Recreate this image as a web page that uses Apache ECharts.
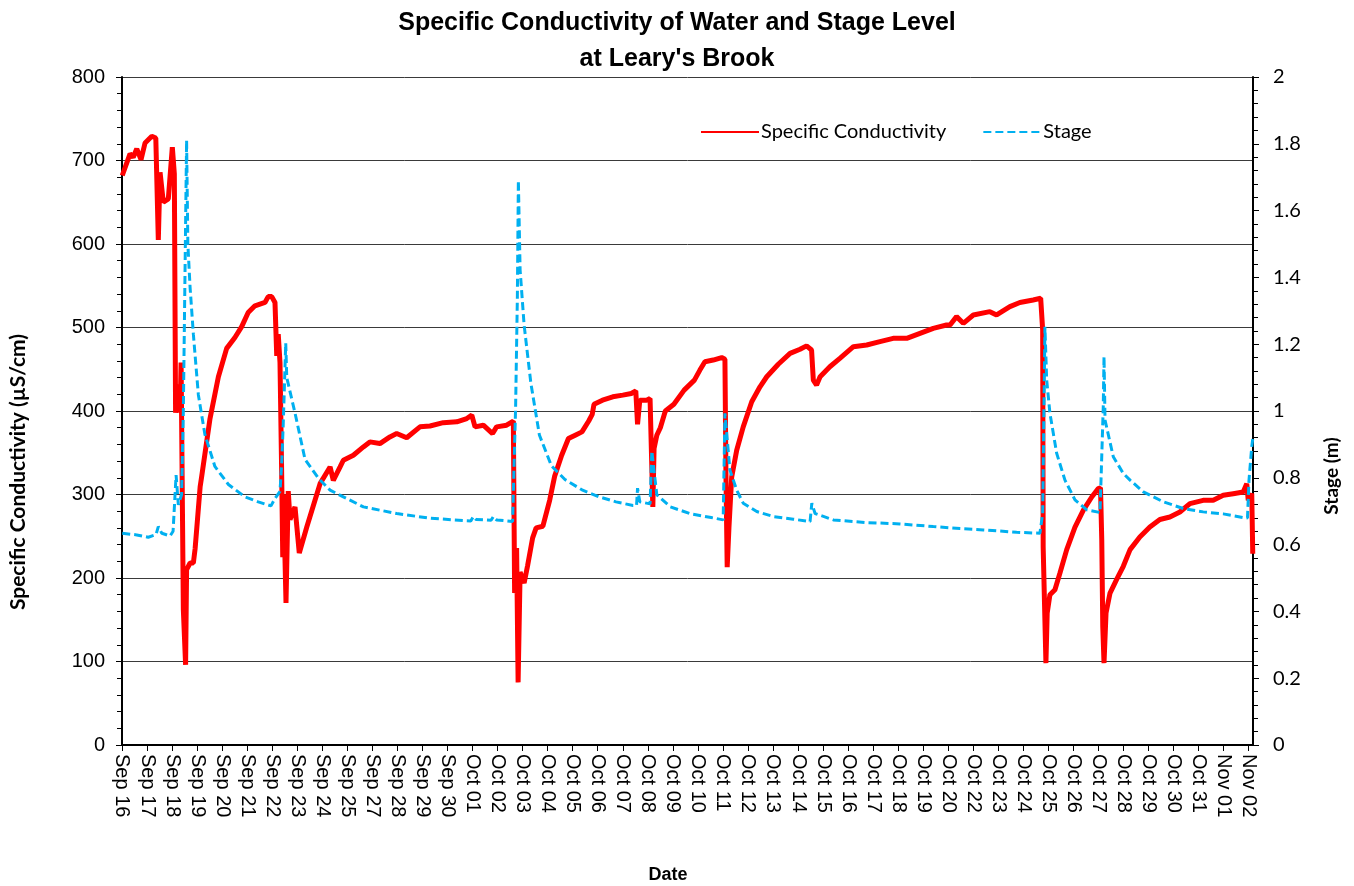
<!DOCTYPE html>
<html lang="en">
<head>
<meta charset="UTF-8">
<title>Specific Conductivity and Stage - Leary's Brook</title>
<script src="https://cdn.jsdelivr.net/npm/echarts@6/dist/echarts.min.js"></script>
<style>
  html, body { margin: 0; padding: 0; background: #fff; }
  #chart { width: 1354px; height: 886px; }
</style>
</head>
<body>
<div id="chart"></div>
<script>
// x positions are in axis-tick units (0 = first label "Sep 16", 1 tick per label)
var tickLabels = ['Sep 16','Sep 17','Sep 18','Sep 19','Sep 20','Sep 21','Sep 22','Sep 23','Sep 24','Sep 25',
  'Sep 27','Sep 28','Sep 29','Sep 30','Oct 01','Oct 02','Oct 03','Oct 04','Oct 05','Oct 06',
  'Oct 07','Oct 08','Oct 09','Oct 10','Oct 11','Oct 12','Oct 13','Oct 14','Oct 15','Oct 16',
  'Oct 17','Oct 18','Oct 19','Oct 20','Oct 22','Oct 23','Oct 24','Oct 25','Oct 26','Oct 27',
  'Oct 28','Oct 29','Oct 30','Oct 31','Nov 01','Nov 02'];
var xMax = 45.17;

// specific conductivity (uS/cm)
var condT = [0.01,0.32,0.45,0.59,0.76,0.92,1.19,1.35,1.42,1.45,1.52,1.65,1.85,1.92,2.01,2.09,2.14,2.25,2.32,2.36,
  2.45,2.54,2.58,2.72,2.85,2.92,3.12,3.18,3.51,3.85,4.18,4.51,4.78,5.04,5.31,5.71,5.84,5.98,6.11,6.18,
  6.24,6.31,6.37,6.42,6.45,6.55,6.64,6.71,6.91,7.08,7.38,7.91,8.31,8.44,8.71,8.84,9.24,9.64,9.90,10.30,
  10.70,10.97,11.37,11.90,12.30,12.83,13.37,13.77,13.97,14.10,14.43,14.80,14.96,15.36,15.63,15.68,15.76,15.82,15.90,16.06,
  16.20,16.40,16.54,16.81,17.08,17.28,17.56,17.83,18.10,18.37,18.64,18.78,18.85,19.19,19.60,20.00,20.34,20.52,20.59,20.68,
  20.95,21.09,21.20,21.25,21.36,21.50,21.70,22.04,22.45,22.86,23.08,23.28,23.61,23.95,24.08,24.12,24.17,24.24,24.35,24.55,
  24.81,25.15,25.48,25.75,26.21,26.68,27.08,27.34,27.54,27.61,27.74,27.88,28.27,28.67,29.21,29.74,30.27,30.80,31.34,31.87,
  32.40,32.93,33.07,33.33,33.60,34.00,34.66,34.93,35.46,35.86,36.39,36.69,36.77,36.79,36.90,36.95,37.06,37.26,37.46,37.73,
  38.06,38.39,38.73,38.99,39.08,39.13,39.17,39.22,39.30,39.46,39.72,39.99,40.26,40.65,41.05,41.45,41.85,42.25,42.65,43.18,
  43.58,43.98,44.38,44.78,44.92,44.98,45.12,45.16];
var condV = [682,708,704,714,701,721,729,727,725,605,686,650,654,652,716,684,398,432,398,458,
  162,96,210,218,218,235,309,321,390,441,475,488,501,518,526,530,537,537,530,466,
  492,458,340,225,300,170,304,270,285,230,261,313,333,317,333,341,347,357,363,361,
  369,373,368,381,382,386,387,391,395,381,383,373,381,383,388,182,236,75,207,194,
  215,248,260,262,293,322,347,367,371,375,388,396,408,413,417,419,421,424,384,413,
  413,415,285,355,371,380,400,408,425,437,449,459,461,464,462,325,213,260,321,353,
  381,411,429,441,456,469,474,478,473,437,431,441,453,463,477,479,483,487,487,493,
  499,503,503,513,505,515,519,515,525,530,533,535,497,237,98,158,180,186,206,234,
  261,281,297,307,308,245,142,98,158,182,198,214,234,249,261,270,273,279,289,293,
  293,299,301,303,313,293,301,229];

// stage (m)
var stageT = [0.01,0.59,1.05,1.36,1.45,1.59,1.92,2.04,2.16,2.25,2.38,2.45,2.58,2.63,2.72,2.85,3.05,3.31,3.71,4.25,
  4.91,5.44,5.95,6.11,6.31,6.38,6.44,6.54,6.58,6.91,7.31,7.83,8.31,8.84,9.64,10.97,12.30,13.63,13.93,14.03,
  14.14,14.74,14.83,14.96,15.60,15.72,15.79,15.83,15.90,16.06,16.33,16.67,17.15,17.69,18.37,19.05,19.73,20.41,20.55,20.59,
  20.68,21.09,21.16,21.36,21.90,22.72,23.53,24.01,24.08,24.15,24.28,24.55,24.81,25.35,26.02,26.81,27.48,27.55,27.68,28.41,
  29.74,31.07,32.40,33.47,34.40,35.73,36.66,36.77,36.86,36.93,37.06,37.33,37.66,38.06,38.53,39.06,39.10,39.19,39.22,39.26,
  39.59,39.99,40.26,40.79,41.59,42.39,43.18,43.98,44.78,44.95,45.01,45.12,45.17];
var stageV = [0.634,0.629,0.622,0.630,0.654,0.634,0.626,0.640,0.808,0.719,0.749,1.000,1.810,1.500,1.369,1.230,1.048,0.930,0.834,0.780,
  0.743,0.728,0.716,0.738,0.759,0.845,0.962,1.203,1.100,0.994,0.855,0.800,0.763,0.743,0.713,0.693,0.679,0.672,0.671,0.684,
  0.675,0.673,0.684,0.674,0.669,1.011,1.340,1.690,1.422,1.257,1.083,0.928,0.836,0.795,0.764,0.743,0.728,0.717,0.717,0.769,
  0.728,0.722,0.880,0.749,0.713,0.692,0.681,0.674,0.993,0.998,0.823,0.763,0.724,0.699,0.684,0.676,0.669,0.724,0.693,0.674,
  0.666,0.662,0.654,0.648,0.644,0.637,0.634,0.694,1.252,1.093,0.993,0.873,0.793,0.734,0.704,0.696,0.793,1.013,1.163,0.973,
  0.863,0.813,0.793,0.758,0.728,0.708,0.698,0.692,0.681,0.680,0.793,0.893,0.923];

function pairs(t, v) {
  var out = [];
  for (var i = 0; i < t.length; i++) out.push([t[i], v[i]]);
  return out;
}

var chart = echarts.init(document.getElementById('chart'));
chart.setOption({
  animation: false,
  backgroundColor: '#fff',
  title: {
    text: "Specific Conductivity of Water and Stage Level\nat Leary's Brook",
    left: 'center',
    top: 0,
    textStyle: { fontFamily: 'Liberation Sans', fontWeight: 'bold', fontSize: 25, lineHeight: 36, color: '#000' }
  },
  legend: {
    left: 695,
    top: 117,
    itemWidth: 58,
    itemHeight: 14,
    itemGap: 36,
    itemStyle: { opacity: 0 },
    textStyle: { fontFamily: 'Lato', fontSize: 20, color: '#000', padding: [0, 0, 0, -3] },
    data: ['Specific Conductivity', 'Stage']
  },
  // axis titles placed as text so they sit where the original puts them
  graphic: [{
    type: 'text', x: 18, y: 472, rotation: Math.PI / 2,
    style: { text: 'Specific Conductivity (µS/cm)', fontFamily: 'Lato', fontWeight: 'bold', fontSize: 21,
      fill: '#000', align: 'center', verticalAlign: 'middle' }
  }, {
    type: 'text', x: 1332, y: 476, rotation: Math.PI / 2,
    style: { text: 'Stage (m)', fontFamily: 'Lato', fontWeight: 'bold', fontSize: 19,
      fill: '#000', align: 'center', verticalAlign: 'middle' }
  }, {
    type: 'text', x: 668, y: 875,
    style: { text: 'Date', fontFamily: 'Liberation Sans', fontWeight: 'bold', fontSize: 18,
      fill: '#000', align: 'center', verticalAlign: 'middle' }
  }],
  grid: { left: 122, right: 101, top: 77, bottom: 141 },
  xAxis: {
    type: 'value',
    min: 0,
    max: xMax,
    interval: 1,
    axisLine: { lineStyle: { color: '#000', width: 2 } },
    axisTick: { length: 6, lineStyle: { color: '#000' } },
    splitLine: { show: false },
    axisLabel: {
      rotate: -90,
      margin: 9,
      showMaxLabel: false,
      fontFamily: 'Liberation Sans',
      fontSize: 20,
      color: '#000',
      formatter: function (v) {
        var k = Math.round(v);
        return Math.abs(v - k) < 1e-6 && tickLabels[k] ? tickLabels[k] : '';
      }
    }
  },
  yAxis: [{
    type: 'value',
    min: 0,
    max: 800,
    interval: 100,
    axisLine: { show: true, lineStyle: { color: '#000', width: 2 } },
    axisTick: { show: true, length: 6, lineStyle: { color: '#000' } },
    minorTick: { show: true, splitNumber: 5, length: 5, lineStyle: { color: '#000' } },
    splitLine: { show: true, lineStyle: { color: '#3a3a3a', width: 1 } },
    axisLabel: { margin: 17, fontFamily: 'Liberation Sans', fontSize: 20, color: '#000' }
  }, {
    type: 'value',
    min: 0,
    max: 2,
    interval: 0.2,
    axisLine: { show: true, lineStyle: { color: '#000', width: 2 } },
    axisTick: { show: true, length: 6, lineStyle: { color: '#000' } },
    minorTick: { show: true, splitNumber: 5, length: 5, lineStyle: { color: '#000' } },
    splitLine: { show: false },
    axisLabel: {
      margin: 20, fontFamily: 'Lato', fontSize: 20, color: '#000',
      formatter: function (v) { return String(Math.round(v * 10) / 10); }
    }
  }],
  series: [{
    name: 'Specific Conductivity',
    type: 'line',
    yAxisIndex: 0,
    symbol: 'none',
    color: '#ff0000',
    lineStyle: { color: '#ff0000', width: 5 },
    data: pairs(condT, condV)
  }, {
    name: 'Stage',
    type: 'line',
    yAxisIndex: 1,
    symbol: 'none',
    color: '#00b0f0',
    lineStyle: { color: '#00b0f0', width: 3, type: [8, 4] },
    data: pairs(stageT, stageV)
  }]
});
</script>
</body>
</html>
